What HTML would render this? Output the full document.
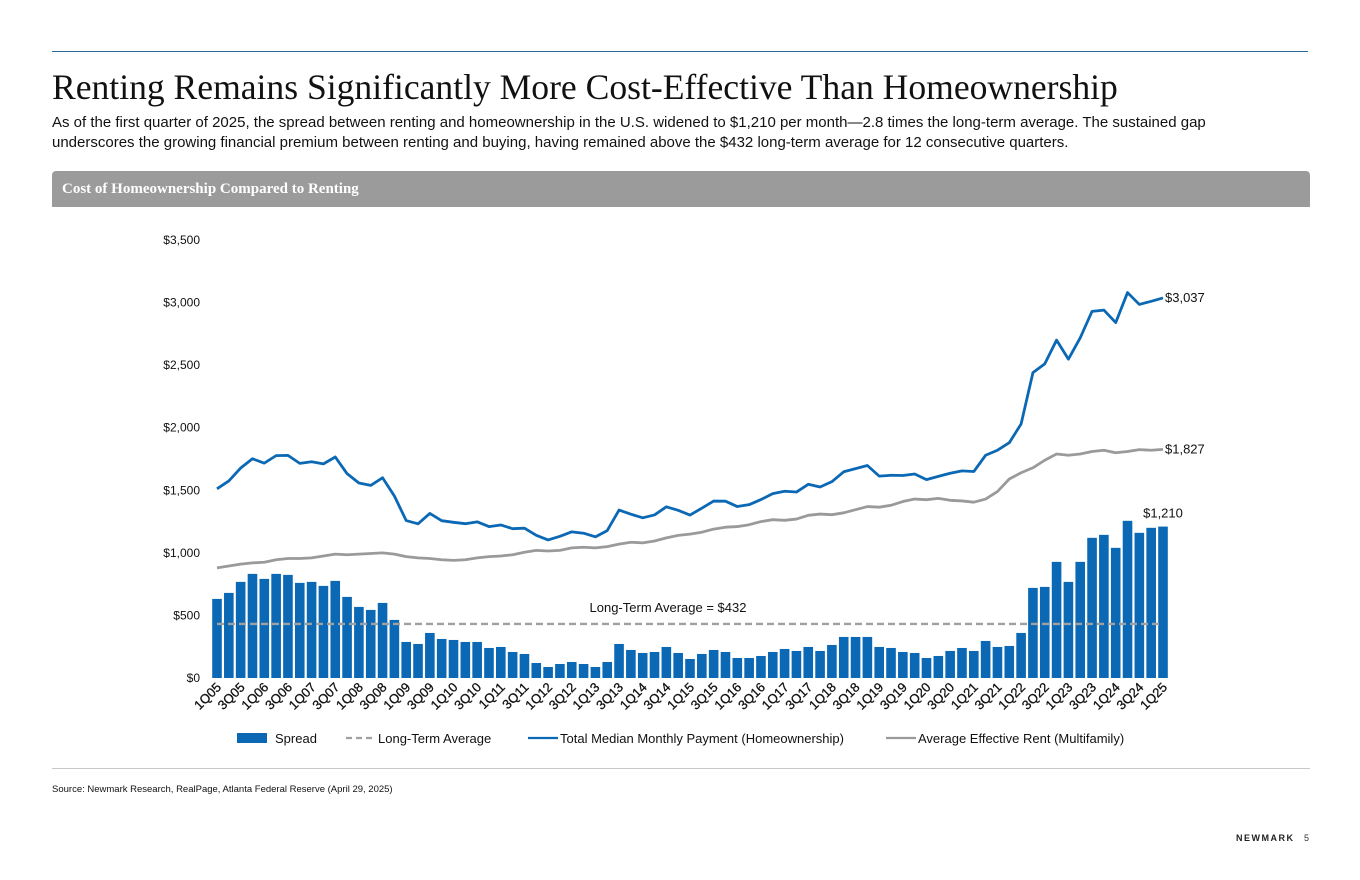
<!DOCTYPE html>
<html><head><meta charset="utf-8"><style>
body{margin:0;background:#fff;font-family:"Liberation Sans",sans-serif;}
#wrap{position:relative;width:1360px;height:880px;overflow:hidden;}
.abs{position:absolute;}
</style></head><body>
<div id="wrap">
<div class="abs" style="left:52px;top:51px;width:1256px;height:1px;background:#2a6a9a"></div>
<div class="abs" style="left:52px;top:66px;font-family:'Liberation Serif',serif;font-size:35.6px;color:#111;white-space:nowrap">Renting Remains Significantly More Cost-Effective Than Homeownership</div>
<div class="abs" style="left:52px;top:113px;width:1205px;font-size:15px;line-height:20px;color:#111">As of the first quarter of 2025, the spread between renting and homeownership in the U.S. widened to $1,210 per month—2.8 times the long-term average. The sustained gap underscores the growing financial premium between renting and buying, having remained above the $432 long-term average for 12 consecutive quarters.</div>
<div class="abs" style="left:52px;top:171px;width:1258px;height:36px;background:#9b9b9b;border-radius:4px 4px 0 0"><div style="position:absolute;left:10px;top:10px;font-family:'Liberation Serif',serif;font-weight:bold;font-size:15px;color:#fff">Cost of Homeownership Compared to Renting</div></div>
<svg class="abs" style="left:0;top:0" width="1360" height="880" id="chart"></svg>
<div class="abs" style="left:52px;top:768px;width:1258px;height:1px;background:#c8c8c8"></div>
<div class="abs" style="left:52px;top:784px;font-size:9.5px;color:#111">Source: Newmark Research, RealPage, Atlanta Federal Reserve (April 29, 2025)</div>
<div class="abs" style="left:1236px;top:833px;font-size:9px;font-weight:bold;letter-spacing:1.5px;color:#222">NEWMARK</div>
<div class="abs" style="left:1304px;top:833px;font-size:9px;color:#333">5</div>
</div>
<script>
const quarters=[];
for(let y=5;y<=25;y++){for(let q=1;q<=4;q++){if(y===25&&q>1)break;quarters.push(q+'Q'+String(y).padStart(2,'0'));}}
const spread=[632,680,768,832,792,832,824,760,768,736,776,648,568,544,600,464,288,272,360,312,304,288,288,240,248,208,192,120,88,112,128,112,88,128,272,224,200,208,248,200,152,192,224,208,160,160,176,208,232,216,248,216,264,328,328,328,248,240,208,200,160,176,216,240,216,296,248,256,360,720,728,928,768,928,1120,1144,1040,1256,1160,1200,1210];
const rent=[880,895,910,920,925,945,955,955,960,975,990,985,990,995,1000,990,970,960,955,945,940,945,960,970,975,985,1005,1020,1015,1020,1040,1045,1040,1050,1070,1085,1080,1095,1120,1140,1150,1165,1190,1205,1210,1225,1250,1265,1260,1270,1300,1310,1305,1320,1345,1370,1365,1380,1410,1430,1425,1435,1420,1415,1405,1430,1490,1590,1640,1680,1740,1790,1780,1790,1810,1820,1800,1810,1825,1820,1827];
const payment=[1512,1575,1678,1752,1717,1777,1779,1715,1728,1711,1766,1633,1558,1539,1600,1454,1258,1232,1315,1257,1244,1233,1248,1210,1223,1193,1197,1140,1103,1132,1168,1157,1128,1178,1342,1309,1280,1303,1368,1340,1302,1357,1414,1413,1370,1385,1426,1473,1492,1486,1548,1526,1569,1648,1673,1698,1613,1620,1618,1630,1585,1611,1636,1655,1650,1780,1820,1880,2030,2440,2510,2700,2548,2718,2930,2940,2840,3080,2985,3010,3037];
const longTermAvg=432;
const yTicks=[0,500,1000,1500,2000,2500,3000,3500];
const yTickLabels=['$0','$500','$1,000','$1,500','$2,000','$2,500','$3,000','$3,500'];
const svg=document.getElementById('chart');
const NS='http://www.w3.org/2000/svg';
const x0=217,x1=1163,yb=678,yt=240,ymax=3500;
const X=i=>x0+i*(x1-x0)/(quarters.length-1);
const Y=v=>yb-v/ymax*(yb-yt);
function mk(t,a){const e=document.createElementNS(NS,t);for(const k in a)e.setAttribute(k,a[k]);svg.appendChild(e);return e;}
yTicks.forEach((v,i)=>{const t=mk('text',{x:200,y:Y(v)+4,'text-anchor':'end','font-size':12,fill:'#111'});t.textContent=yTickLabels[i];

});
const bw=9.6;
spread.forEach((v,i)=>{const r=mk('rect',{x:X(i)-bw/2,y:Y(v),width:bw,height:yb-Y(v),fill:'#0a68b4'});

});
const avg=mk('line',{x1:X(0),x2:X(quarters.length-1),y1:Y(longTermAvg),y2:Y(longTermAvg),stroke:'#a0a0a0','stroke-width':2.4,'stroke-dasharray':'7,4'});


const al=mk('text',{x:668,y:Y(longTermAvg)-12,'text-anchor':'middle','font-size':13,fill:'#111'});al.textContent='Long-Term Average = $'+longTermAvg;


function line(arr,col,name){const p=mk('polyline',{points:arr.map((v,i)=>X(i)+','+Y(v)).join(' '),fill:'none',stroke:col,'stroke-width':2.8,'stroke-linejoin':'round'});

}
line(rent,'#9a9a9a','rent-line');
line(payment,'#0a68b4','payment-line');
const n=quarters.length-1;
[[payment[n],X(n)+2,Y(payment[n])+4,'start'],[rent[n],X(n)+2,Y(rent[n])+4,'start'],[spread[n],X(n),Y(spread[n])-9,'middle']].forEach(d=>{
const t=mk('text',{x:d[1],y:d[2],'text-anchor':d[3],'font-size':13,fill:'#111'});t.textContent='$'+d[0].toLocaleString('en-US');

});
quarters.forEach((q,i)=>{if(i%2)return;const x=X(i)+5,y=688;const t=mk('text',{x:x,y:y,'text-anchor':'end','font-size':13,fill:'#111',stroke:'#111','stroke-width':0.3,transform:`rotate(-45 ${x} ${y})`});t.textContent=q;

});
const leg=[['rect','Spread',237,'#0a68b4'],['dash','Long-Term Average',346,'#a0a0a0'],['line','Total Median Monthly Payment (Homeownership)',528,'#0a68b4'],['line','Average Effective Rent (Multifamily)',886,'#9a9a9a']];
leg.forEach(l=>{const g=document.createElementNS(NS,'g');svg.appendChild(g);


let s;if(l[0]==='rect'){s=document.createElementNS(NS,'rect');s.setAttribute('x',l[2]);s.setAttribute('y',733);s.setAttribute('width',30);s.setAttribute('height',10);s.setAttribute('fill',l[3]);}
else{s=document.createElementNS(NS,'line');s.setAttribute('x1',l[2]);s.setAttribute('x2',l[2]+30);s.setAttribute('y1',738);s.setAttribute('y2',738);s.setAttribute('stroke',l[3]);s.setAttribute('stroke-width',2.2);if(l[0]==='dash')s.setAttribute('stroke-dasharray','6,4');}
g.appendChild(s);const t=document.createElementNS(NS,'text');t.setAttribute('x',l[2]+(l[0]==='rect'?38:32));t.setAttribute('y',743);t.setAttribute('font-size',13);t.setAttribute('fill','#111');t.textContent=l[1];g.appendChild(t);});
</script>
</body></html>
